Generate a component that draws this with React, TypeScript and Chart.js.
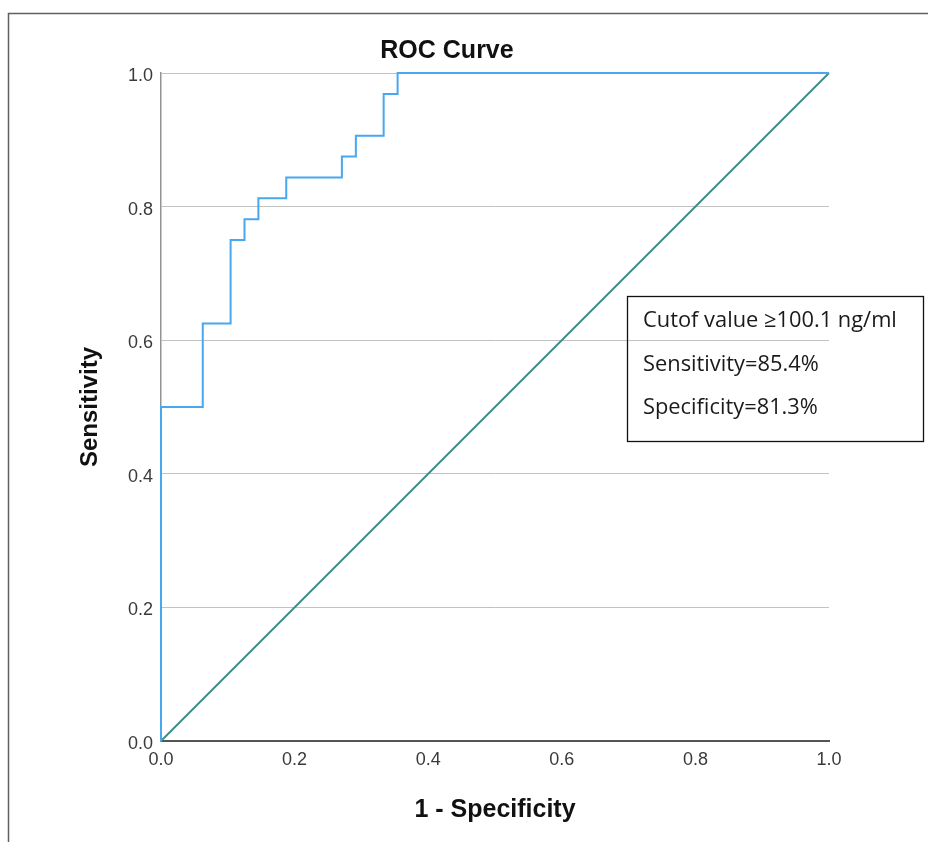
import React, { useEffect, useRef } from 'react';
import { Chart, registerables } from 'chart.js';

Chart.register(...registerables);

// ROC curve corner points (1 - specificity, sensitivity)
const fpr = [0, 0, 0.0625, 0.0625, 0.1042, 0.1042, 0.125, 0.125, 0.1458, 0.1458, 0.1875, 0.1875, 0.2708, 0.2708, 0.2917, 0.2917, 0.3333, 0.3333, 0.3542, 0.3542, 1];
const tpr = [0, 0.5, 0.5, 0.625, 0.625, 0.75, 0.75, 0.78125, 0.78125, 0.8125, 0.8125, 0.84375, 0.84375, 0.875, 0.875, 0.90625, 0.90625, 0.96875, 0.96875, 1, 1];

// Reference (chance) line
const refX = [0, 1];
const refY = [0, 1];

const axisTicks = [0, 0.2, 0.4, 0.6, 0.8, 1.0];
const tickLabels = ['0.0', '0.2', '0.4', '0.6', '0.8', '1.0'];

const chartTitle = 'ROC Curve';
const xTitle = '1 - Specificity';
const yTitle = 'Sensitivity';
const noteLines = ['Cutof value \u2265100.1 ng/ml', 'Sensitivity=85.4%', 'Specificity=81.3%'];

const SANS = "'Liberation Sans', Arial, sans-serif";
const NOTE_FONT = "'Open Sans', 'Noto Sans', sans-serif";

const framePlugin = {
  id: 'frame',
  beforeDraw(chart: any) {
    const ctx = chart.ctx;
    ctx.save();
    ctx.strokeStyle = '#606060';
    ctx.lineWidth = 1.5;
    ctx.beginPath();
    ctx.moveTo(8.5, chart.height);
    ctx.lineTo(8.5, 13.5);
    ctx.lineTo(chart.width, 13.5);
    ctx.stroke();
    ctx.restore();
  },
};

const notePlugin = {
  id: 'note',
  afterDraw(chart: any) {
    const ctx = chart.ctx;
    ctx.save();
    ctx.strokeStyle = '#111';
    ctx.lineWidth = 1.3;
    ctx.strokeRect(627.5, 296.5, 296, 145);
    ctx.fillStyle = '#1a1a1a';
    ctx.font = `20px ${NOTE_FONT}`;
    const w = ctx.measureText(noteLines[0]).width || 254;
    const size = Math.max(14, Math.min(26, (20 * 254) / w));
    ctx.font = `${size.toFixed(2)}px ${NOTE_FONT}`;
    ctx.textBaseline = 'middle';
    ctx.textAlign = 'left';
    const ys = [321, 364.5, 408];
    noteLines.forEach((t, i) => ctx.fillText(t, 643, ys[i]));
    ctx.restore();
  },
};

export default function App() {
  const ref = useRef<HTMLCanvasElement | null>(null);

  useEffect(() => {
    if (!ref.current) return;
    const chart = new Chart(ref.current, {
      type: 'scatter',
      data: {
        datasets: [
          {
            label: 'ROC',
            data: fpr.map((x, i) => ({ x, y: tpr[i] })),
            showLine: true,
            borderColor: '#47a7ef',
            backgroundColor: '#47a7ef',
            borderWidth: 2,
            pointRadius: 0,
            clip: false,
          },
          {
            label: 'Reference',
            data: refX.map((x, i) => ({ x, y: refY[i] })),
            showLine: true,
            borderColor: '#3d8e8b',
            backgroundColor: '#3d8e8b',
            borderWidth: 2,
            pointRadius: 0,
            clip: false,
          },
        ],
      },
      options: {
        responsive: false,
        animation: false,
        layout: { padding: { left: 65, right: 99, top: 0, bottom: 0 } },
        plugins: {
          legend: { display: false },
          tooltip: { enabled: false },
          title: {
            display: true,
            text: chartTitle,
            color: '#111',
            font: { family: SANS, size: 25, weight: 'bold' },
            padding: { top: 36, bottom: 7 },
          },
        },
        scales: {
          x: {
            type: 'linear',
            min: 0,
            max: 1,
            afterBuildTicks: (s: any) => {
              s.ticks = axisTicks.map((v) => ({ value: v }));
            },
            afterFit: (s: any) => {
              s.height = 101;
            },
            ticks: {
              callback: (_v: any, i: number) => tickLabels[i],
              color: '#3a3a3a',
              font: { family: SANS, size: 18 },
              padding: 8,
              maxRotation: 0,
              autoSkip: false,
            },
            grid: { display: false, drawTicks: false },
            border: { display: true, color: '#555555', width: 2 },
            title: {
              display: true,
              text: xTitle,
              color: '#111',
              font: { family: SANS, size: 25, weight: 'bold' },
              padding: { top: 0, bottom: 17 },
            },
          },
          y: {
            type: 'linear',
            min: 0,
            max: 1,
            afterBuildTicks: (s: any) => {
              s.ticks = axisTicks.map((v) => ({ value: v }));
            },
            afterFit: (s: any) => {
              s.width = 96;
            },
            ticks: {
              callback: (_v: any, i: number) => tickLabels[i],
              color: '#3a3a3a',
              font: { family: SANS, size: 18 },
              padding: 8,
              labelOffset: 3,
              autoSkip: false,
            },
            grid: { color: '#c2c2c2', lineWidth: 1, drawTicks: false },
            border: { display: true, color: '#939393', width: 1.5 },
            title: {
              display: true,
              text: yTitle,
              color: '#111',
              font: { family: SANS, size: 24, weight: 'bold' },
              padding: { top: 10.6, bottom: 0 },
            },
          },
        },
      },
      plugins: [framePlugin, notePlugin],
    } as any);
    return () => chart.destroy();
  }, []);

  return (
    <>
      <style>{`html,body{margin:0;padding:0;overflow:hidden;background:#fff}`}</style>
      <canvas ref={ref} width={928} height={842} style={{ display: 'block' }} />
    </>
  );
}
